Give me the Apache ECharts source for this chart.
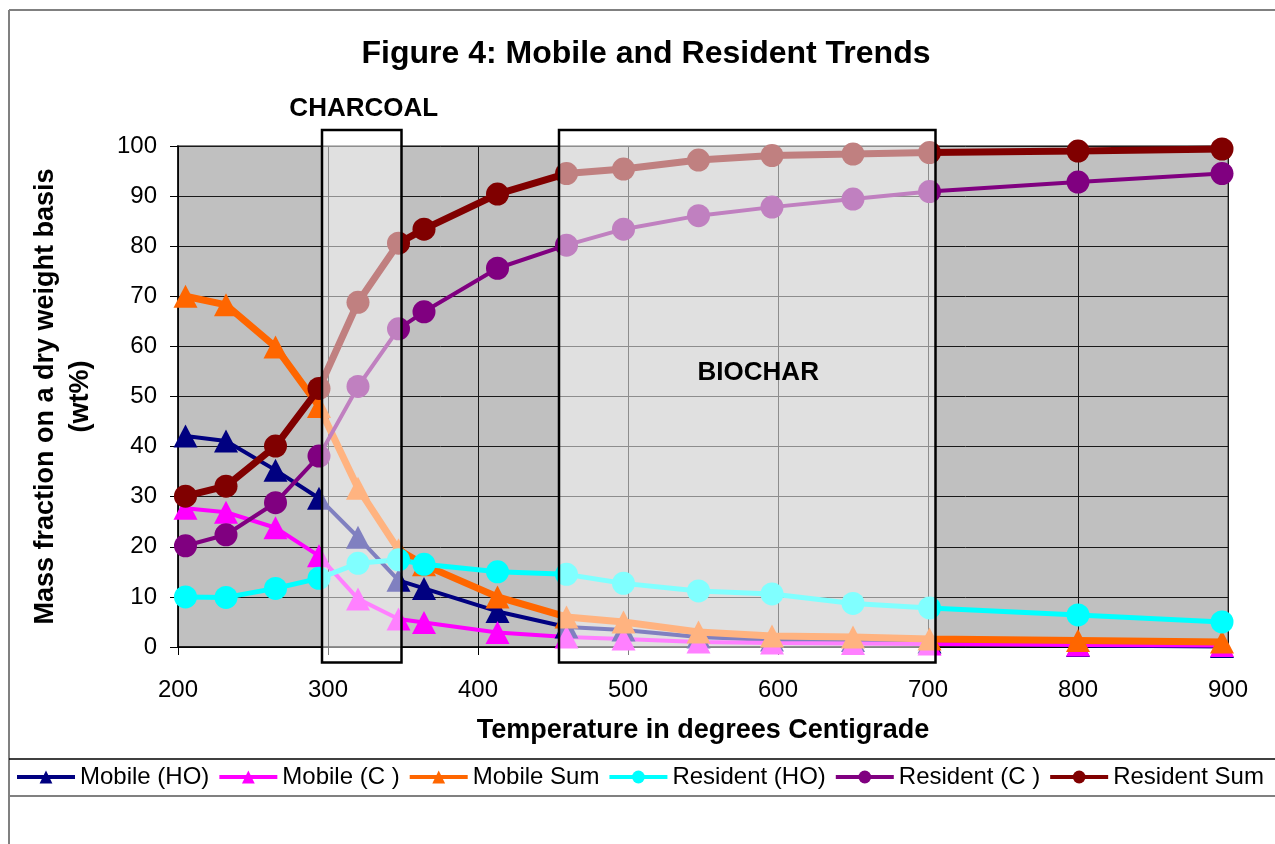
<!DOCTYPE html>
<html>
<head>
<meta charset="utf-8">
<title>Figure 4: Mobile and Resident Trends</title>
<script src="https://cdn.jsdelivr.net/npm/echarts@6.0.0/dist/echarts.min.js"></script>
<style>
  html, body { margin: 0; padding: 0; background: #ffffff; }
  #chart { width: 1275px; height: 844px; }
</style>
</head>
<body>
<div id="chart"></div>
<script>
// Pyrolysis temperature (deg C) for each sample
const temperatures = [205, 232, 265, 294, 320, 347, 364, 413, 459, 497, 547, 596, 650, 701, 800, 896];

// Mass fractions, wt% on a dry weight basis
const mobileHO    = [42.1, 41.1, 35.3, 29.7, 21.9, 13.3, 11.7, 7.1, 4.0, 3.4, 2.0, 1.4, 1.3, 1.0, 0.3, 0.1];
const mobileC     = [27.7, 26.9, 23.8, 18.2, 9.6, 5.6, 4.9, 2.9, 2.0, 1.6, 1.0, 0.8, 0.7, 0.6, 0.4, 0.3];
const mobileSum   = [70.0, 68.3, 59.9, 48.0, 31.7, 19.4, 16.4, 10.0, 6.0, 5.0, 3.0, 2.2, 2.0, 1.6, 1.3, 1.0];
const residentHO  = [10.0, 9.9, 11.7, 13.7, 16.7, 17.4, 16.5, 15.0, 14.5, 12.7, 11.2, 10.6, 8.7, 7.8, 6.4, 5.0];
const residentC   = [20.2, 22.4, 28.8, 38.1, 52.0, 63.5, 66.9, 75.6, 80.2, 83.4, 86.1, 87.8, 89.4, 90.9, 92.8, 94.5];
const residentSum = [30.1, 32.1, 40.1, 51.6, 68.8, 80.6, 83.4, 90.4, 94.5, 95.4, 97.2, 98.1, 98.4, 98.7, 99.0, 99.4];

const seriesNames = ['Mobile (HO)', 'Mobile (C )', 'Mobile Sum', 'Resident (HO)', 'Resident (C )', 'Resident Sum'];

// Temperature bands for the two product classes
const bandNames  = ['CHARCOAL', 'BIOCHAR'];
const bandRanges = [[296, 349], [454, 705]];

// Axis ticks
const xTicks = [200, 300, 400, 500, 600, 700, 800, 900];
const yTicks = [0, 10, 20, 30, 40, 50, 60, 70, 80, 90, 100];

const FONT = "'Liberation Sans', Arial, Helvetica, sans-serif";

function pairs(values) {
  return temperatures.map((t, i) => [t, values[i]]);
}

function lineSeries(name, values, color, width, symbol, size) {
  return {
    name: name,
    type: 'line',
    data: pairs(values),
    clip: false,
    symbol: symbol,
    symbolSize: size,
    showAllSymbol: true,
    lineStyle: { color: color, width: width },
    itemStyle: { color: color, borderWidth: 0 },
    emphasis: { disabled: true },
    z: 2
  };
}

const chart = echarts.init(document.getElementById('chart'), null, { renderer: 'canvas' });

const option = {
  animation: false,
  backgroundColor: '#ffffff',
  textStyle: { fontFamily: FONT },
  title: {
    text: 'Figure 4: Mobile and Resident Trends',
    left: 646,
    top: 38,
    textAlign: 'center',
    padding: 0,
    textStyle: { fontFamily: FONT, fontSize: 32, fontWeight: 'bold', color: '#000' }
  },
  grid: {
    left: 178,
    top: 146,
    right: 47,
    bottom: 197,
    show: true,
    backgroundColor: '#c0c0c0',
    borderColor: '#808080',
    borderWidth: 2
  },
  legend: {
    data: seriesNames,
    left: 15,
    top: 765,
    width: 1600,
    padding: 0,
    itemWidth: 58,
    itemHeight: 16,
    itemGap: 8,
    lineStyle: { width: 4 },
    textStyle: { fontFamily: FONT, fontSize: 24, color: '#000', padding: [0, 0, 0, 0] },
    selectedMode: false
  },
  xAxis: {
    type: 'value',
    min: xTicks[0],
    max: xTicks[xTicks.length - 1],
    interval: xTicks[1] - xTicks[0],
    name: 'Temperature in degrees Centigrade',
    nameLocation: 'middle',
    nameGap: 70,
    nameTextStyle: { fontFamily: FONT, fontSize: 27, fontWeight: 'bold', color: '#000' },
    axisLine: { show: true, onZero: false, lineStyle: { color: '#000', width: 1.5 } },
    axisTick: { show: true, inside: false, length: 8, lineStyle: { color: '#000' } },
    axisLabel: { fontFamily: FONT, fontSize: 24, color: '#000', margin: 31 },
    splitLine: { show: true, lineStyle: { color: '#1a1a1a', width: 1 } }
  },
  yAxis: {
    type: 'value',
    min: yTicks[0],
    max: yTicks[yTicks.length - 1],
    interval: yTicks[1] - yTicks[0],
    name: 'Mass fraction on a dry weight basis\n(wt%)',
    nameLocation: 'middle',
    nameGap: 80,
    nameTextStyle: { fontFamily: FONT, fontSize: 27, fontWeight: 'bold', color: '#000', lineHeight: 35 },
    axisLine: { show: true, onZero: false, lineStyle: { color: '#000', width: 1.5 } },
    axisTick: { show: true, inside: false, length: 8, lineStyle: { color: '#000' } },
    axisLabel: { fontFamily: FONT, fontSize: 24, color: '#000', margin: 21 },
    splitLine: { show: true, lineStyle: { color: '#1a1a1a', width: 1 } }
  },
  graphic: [
    // outer frame and legend separators
    { type: 'line', shape: { x1: 9, y1: 10, x2: 1275, y2: 10 }, style: { stroke: '#808080', lineWidth: 2 }, z: 100 },
    { type: 'line', shape: { x1: 9, y1: 10, x2: 9, y2: 844 }, style: { stroke: '#808080', lineWidth: 2 }, z: 100 },
    { type: 'line', shape: { x1: 9, y1: 759, x2: 1275, y2: 759 }, style: { stroke: '#000000', lineWidth: 1.5 }, z: 100 },
    { type: 'line', shape: { x1: 9, y1: 796, x2: 1275, y2: 796 }, style: { stroke: '#808080', lineWidth: 2 }, z: 100 }
  ],
  series: [
    lineSeries(seriesNames[0], mobileHO,    '#000080', 4, 'triangle', [24, 23]),
    lineSeries(seriesNames[1], mobileC,     '#ff00ff', 4, 'triangle', [24, 23]),
    lineSeries(seriesNames[2], mobileSum,   '#ff6600', 7, 'triangle', [24, 23]),
    lineSeries(seriesNames[3], residentHO,  '#00ffff', 5, 'circle', 23),
    lineSeries(seriesNames[4], residentC,   '#800080', 4, 'circle', 23),
    lineSeries(seriesNames[5], residentSum, '#800000', 7, 'circle', 23),
    {
      // translucent bands marking the charcoal and biochar temperature ranges
      name: 'bands',
      type: 'custom',
      z: 10,
      clip: false,
      silent: true,
      encode: { x: [0, 1] },
      data: bandRanges.map((r, i) => [r[0], r[1], i]),
      renderItem: function (params, api) {
        const x0 = api.value(0), x1 = api.value(1);
        const topLeft = api.coord([x0, 103.2]);
        const bottomRight = api.coord([x1, -3.1]);
        const w = bottomRight[0] - topLeft[0];
        const h = bottomRight[1] - topLeft[1];
        const idx = params.dataIndex;
        let tx, ty;
        if (idx === 0) {
          tx = topLeft[0] + w / 2 + 2;
          ty = topLeft[1] - 21;
        } else {
          tx = topLeft[0] + w / 2 + 11;
          ty = api.coord([x0, 54.7])[1];
        }
        return {
          type: 'group',
          children: [
            {
              type: 'rect',
              shape: { x: topLeft[0], y: topLeft[1], width: w, height: h },
              style: { fill: 'rgba(255,255,255,0.5)', stroke: '#000000', lineWidth: 2.5 }
            },
            {
              type: 'text',
              style: {
                text: bandNames[idx],
                x: tx,
                y: ty,
                align: 'center',
                verticalAlign: 'middle',
                font: "bold 26px " + FONT,
                fill: '#000000'
              }
            }
          ]
        };
      }
    }
  ]
};

chart.setOption(option);
</script>
</body>
</html>
